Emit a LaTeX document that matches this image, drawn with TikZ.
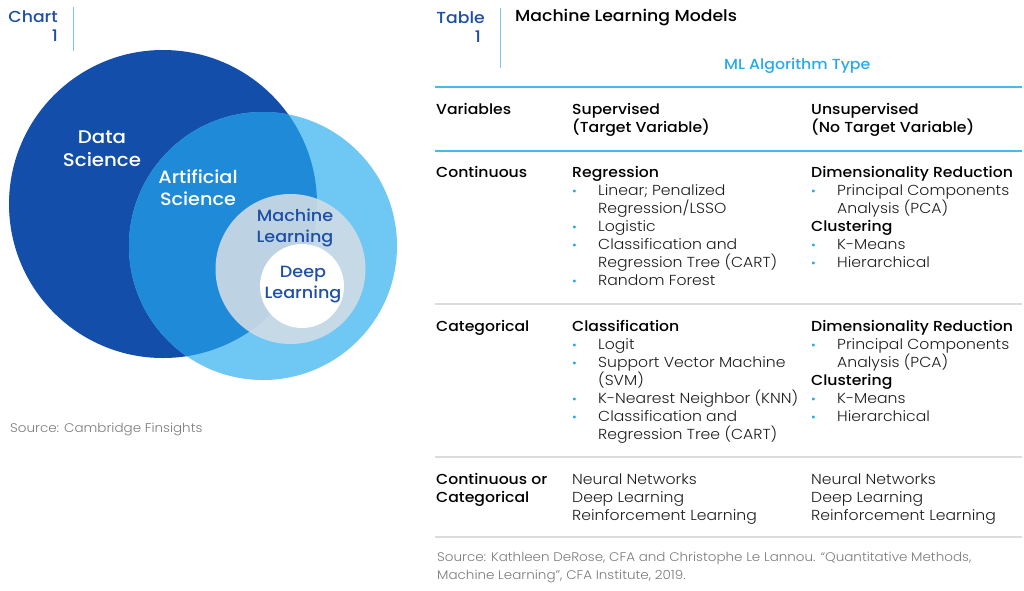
\documentclass[tikz,border=0pt]{standalone}
\usepackage{fontspec}
\setmainfont{Poppins}[UprightFont={* Light},BoldFont={* Medium},FakeStretch=1.08]
\definecolor{dsblue}{HTML}{134FAA}
\definecolor{aiblue}{HTML}{1F8BD8}
\definecolor{ltblue}{HTML}{6FC7F3}
\definecolor{mlfill}{HTML}{CFDBE6}
\definecolor{ttl}{HTML}{1F4FA6}
\definecolor{vline}{HTML}{7FC5EE}
\definecolor{acc}{HTML}{29A9E9}
\definecolor{brule}{HTML}{4DB8EC}
\definecolor{grule}{HTML}{DCDCDC}
\definecolor{txt}{HTML}{1E1E1E}
\definecolor{srcc}{HTML}{7A7A7A}
\newcommand\bl{\makebox[26pt][l]{\hspace{0pt}{\color{acc}\fontsize{12}{12}\selectfont •}}}
\newcommand\ind{\hspace*{26pt}}
\begin{document}
\begin{tikzpicture}[x=1pt,y=-1pt,
  circw/.style={text=white,font=\bfseries\fontsize{18.3}{23}\selectfont,align=center,inner sep=0},
  circb/.style={text=ttl,font=\bfseries\fontsize{16.3}{21}\selectfont,align=center,inner sep=0},
  lbl/.style={text=ttl,font=\bfseries\fontsize{16}{20}\selectfont,inner sep=0,anchor=base east},
  cell/.style={text=txt,font=\fontsize{14.5}{18}\selectfont,align=left,inner sep=0,anchor=base west},
  hcell/.style={cell,font=\bfseries\fontsize{14.5}{18}\selectfont,text=black},
  srctext/.style={text=srcc,font=\fontsize{12.5}{18}\selectfont,align=left,inner sep=0,anchor=base west},
  vrule/.style={vline,line width=1pt},
  bluerule/.style={brule,line width=2pt},
  grayrule/.style={grule,line width=1.5pt}]
\useasboundingbox (0,0) rectangle (1024,590);
% Venn circles
\fill[dsblue] (163,204) circle (154pt);
\fill[ltblue] (263,246) circle (134pt);
\begin{scope}
  \clip (263,246) circle (134pt);
  \fill[aiblue] (163,204) circle (154pt);
\end{scope}
\fill[mlfill,opacity=0.9] (290.5,269) circle (75pt);
\fill[white] (302,286) circle (42pt);
\node[circw] (ds) at (102,148.5) {Data\\Science};
\node[circw,font=\bfseries\fontsize{17.8}{22}\selectfont] (ai) at (198,188) {Artificial\\Science};
\node[circb] (ml) at (295,228) {Machine\\Learning};
\node[circb] (dl) at (303,285) {Deep\\Learning};
% chart label
\node[lbl] (chart) at (58,22) {Chart};
\node[lbl] (chartn) at (58,41) {1};
\draw[vrule] (73,7) -- (73,51);
\node[srctext] (src1) at (10,432) {Source: Cambridge Finsights};
% table label
\node[lbl] (table) at (485,23) {Table};
\node[lbl] (tablen) at (481,42) {1};
\draw[vrule] (500,8) -- (500,68);
\node[hcell,font=\bfseries\fontsize{16}{18}\selectfont] (ttitle) at (515,21) {Machine Learning Models};
\node[hcell,text=acc,font=\bfseries\fontsize{14.6}{18}\selectfont] (mltype) at (724,69) {ML Algorithm Type};
% rules
\draw[bluerule] (435,87) -- (1022,87);
\draw[bluerule] (435,151) -- (1022,151);
\draw[grayrule] (435,304) -- (1022,304);
\draw[grayrule] (435,457) -- (1022,457);
\draw[grayrule] (435,537) -- (1022,537);
% header (anchor = baseline of last line)
\node[hcell] (hvar) at (436,114) {Variables};
\node[hcell] (hsup) at (572,132) {Supervised\\(Target Variable)};
\node[hcell] (huns) at (811,132) {Unsupervised\\(No Target Variable)};
% continuous
\node[hcell] (rcont) at (436,177) {Continuous};
\node[cell] (csup) at (572,285) {\textbf{\color{black}Regression}\\
  \bl Linear; Penalized\\ \ind Regression/LSSO\\ \bl Logistic\\
  \bl Classification and\\ \ind Regression Tree (CART)\\ \bl Random Forest};
\node[cell] (cuns) at (811,267) {\textbf{\color{black}Dimensionality Reduction}\\
  \bl Principal Components\\ \ind Analysis (PCA)\\ \textbf{\color{black}Clustering}\\
  \bl K-Means\\ \bl Hierarchical};
% categorical
\node[hcell] (rcat) at (436,331) {Categorical};
\node[cell] (ksup) at (572,439) {\textbf{\color{black}Classification}\\
  \bl Logit\\ \bl Support Vector Machine\\ \ind (SVM)\\ \bl K-Nearest Neighbor (KNN)\\
  \bl Classification and\\ \ind Regression Tree (CART)};
\node[cell] (kuns) at (811,421) {\textbf{\color{black}Dimensionality Reduction}\\
  \bl Principal Components\\ \ind Analysis (PCA)\\ \textbf{\color{black}Clustering}\\
  \bl K-Means\\ \bl Hierarchical};
% both
\node[hcell] (rboth) at (436,502) {Continuous or\\Categorical};
\node[cell] (bsup) at (572,520) {Neural Networks\\Deep Learning\\Reinforcement Learning};
\node[cell] (buns) at (811,520) {Neural Networks\\Deep Learning\\Reinforcement Learning};
\node[srctext] (src2) at (437,579) {Source: Kathleen DeRose, CFA and Christophe Le Lannou. “Quantitative Methods,\\Machine Learning”, CFA Institute, 2019.};
\end{tikzpicture}
\end{document}
